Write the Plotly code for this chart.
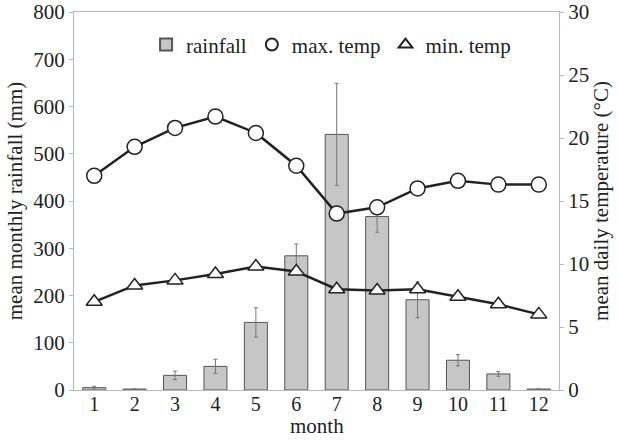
import plotly.graph_objects as go

months = [1, 2, 3, 4, 5, 6, 7, 8, 9, 10, 11, 12]
month_labels = [str(m) for m in months]
rainfall = [5, 2, 31, 50, 143, 284, 541, 367, 191, 63, 34, 2]
rainfall_err = [3, 0, 9, 15, 31, 25, 108, 33, 38, 12, 5, 0]
max_temp = [17.0, 19.3, 20.8, 21.7, 20.4, 17.8, 14.0, 14.5, 16.0, 16.6, 16.3, 16.3]
min_temp = [7.0, 8.3, 8.7, 9.2, 9.8, 9.4, 8.0, 7.9, 8.0, 7.4, 6.8, 6.0]

FONT = "Liberation Serif"
AX = "#b8b8b8"
FS = 21

fig = go.Figure()
fig.add_trace(go.Bar(
    x=months, y=rainfall, name="rainfall", width=0.57,
    marker=dict(color="#c6c6c6", line=dict(color="#555555", width=1)),
    error_y=dict(type="data", array=rainfall_err, color="#777777", thickness=1, width=2),
    yaxis="y",
))
fig.add_trace(go.Scatter(
    x=months, y=max_temp, mode="lines", yaxis="y2", showlegend=False,
    line=dict(color="#222222", width=2.5),
))
fig.add_trace(go.Scatter(
    x=months, y=min_temp, mode="lines", yaxis="y2", showlegend=False,
    line=dict(color="#222222", width=2.5),
))
fig.add_trace(go.Scatter(
    x=months, y=max_temp, mode="markers", yaxis="y2", name="max. temp",
    marker=dict(symbol="circle", size=15, color="white", line=dict(color="#222222", width=1.5)),
))
fig.add_trace(go.Scatter(
    x=months, y=min_temp, mode="markers", yaxis="y2", name="min. temp",
    marker=dict(symbol="triangle-up", size=14, color="white", line=dict(color="#222222", width=1.5)),
))

fig.update_layout(
    width=618, height=440,
    margin=dict(l=74, r=59, t=12, b=50),
    paper_bgcolor="white", plot_bgcolor="white",
    font=dict(family=FONT, size=FS, color="#222222"),
    showlegend=True,
    legend=dict(orientation="h", x=0.53, xanchor="center", y=0.913, yanchor="middle",
                font=dict(family=FONT, size=FS), bgcolor="rgba(0,0,0,0)", itemwidth=30,
                itemsizing="constant", traceorder="normal"),
    xaxis=dict(
        range=[0.5, 12.5], tickmode="array", tickvals=months, ticktext=month_labels,
        showgrid=False, zeroline=False, showline=True, linecolor=AX, linewidth=1,
        mirror=True, ticks="", tickfont=dict(size=20), automargin=False,
        ticklabelstandoff=-4,
    ),
    yaxis=dict(
        range=[0, 800], tickmode="linear", tick0=0, dtick=100,
        showgrid=False, zeroline=False, showline=True, linecolor=AX, linewidth=1,
        ticks="outside", ticklen=4, tickcolor=AX, tickfont=dict(size=FS), automargin=False,
        title=dict(text="mean monthly rainfall (mm)", font=dict(size=FS), standoff=4),
    ),
    yaxis2=dict(
        range=[0, 30], tickmode="linear", tick0=0, dtick=5, overlaying="y", side="right",
        showgrid=False, zeroline=False, showline=True, linecolor=AX, linewidth=1,
        ticks="outside", ticklen=4, tickcolor=AX, tickfont=dict(size=FS), automargin=False,
        title=dict(text="mean daily temperature (°C)", font=dict(size=FS), standoff=2),
    ),
    annotations=[dict(text="month", xref="paper", yref="paper", x=0.5, y=0,
                      xanchor="center", yanchor="bottom", yshift=-49, showarrow=False,
                      borderpad=0, font=dict(family=FONT, size=FS, color="#222222"))],
)

fig.write_html("out.html", config={"displayModeBar": False},
               post_script="document.body.style.margin='0';document.body.style.overflow='hidden';")
